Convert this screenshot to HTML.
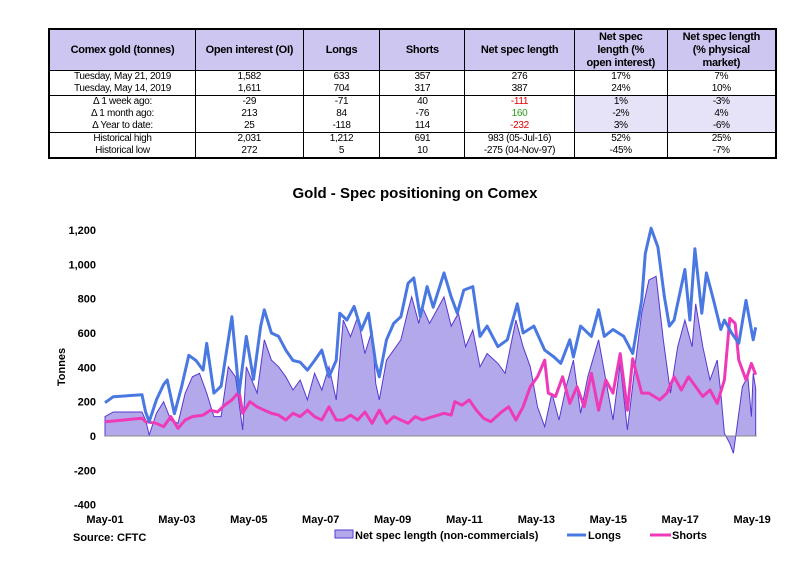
<!DOCTYPE html>
<html><head><meta charset="utf-8">
<style>
body{margin:0;background:#fff;width:808px;height:571px;overflow:hidden;position:relative;font-family:"Liberation Sans",sans-serif;}
table{position:absolute;left:48px;top:28px;width:729px;border-collapse:collapse;font-size:10px;letter-spacing:-0.3px;color:#000;}
td,th{border-left:1px solid #000;border-right:1px solid #000;text-align:center;padding:0;height:12px;line-height:12px;}
th{background:#cdc6f0;font-weight:bold;font-size:11px;height:40px;line-height:13px;border:1px solid #000;padding:0 4px;}
th.w{padding:0 10px;}
tr.gtop td{border-top:1px solid #000;}
table{border:2px solid #000;}
.lav{background:#e6e2f8;}
.red{color:#e00000}.grn{color:#2e9a1e}
</style></head><body>
<table>
<colgroup><col style="width:147px"><col style="width:108px"><col style="width:77px"><col style="width:85px"><col style="width:110px"><col style="width:93px"><col style="width:109px"></colgroup>
<tr><th>Comex gold (tonnes)</th><th>Open interest (OI)</th><th>Longs</th><th>Shorts</th><th>Net spec length</th><th class="w">Net spec length (% open interest)</th><th class="w">Net spec length (% physical market)</th></tr>
<tr class="gtop"><td>Tuesday, May 21, 2019</td><td>1,582</td><td>633</td><td>357</td><td>276</td><td>17%</td><td>7%</td></tr>
<tr><td>Tuesday, May 14, 2019</td><td>1,611</td><td>704</td><td>317</td><td>387</td><td>24%</td><td>10%</td></tr>
<tr class="gtop"><td>&#916; 1 week ago:</td><td>-29</td><td>-71</td><td>40</td><td class="red">-111</td><td class="lav">1%</td><td class="lav">-3%</td></tr>
<tr><td>&#916; 1 month ago:</td><td>213</td><td>84</td><td>-76</td><td class="grn">160</td><td class="lav">-2%</td><td class="lav">4%</td></tr>
<tr><td>&#916; Year to date:</td><td>25</td><td>-118</td><td>114</td><td class="red">-232</td><td class="lav">3%</td><td class="lav">-6%</td></tr>
<tr class="gtop"><td>Historical high</td><td>2,031</td><td>1,212</td><td>691</td><td>983 (05-Jul-16)</td><td>52%</td><td>25%</td></tr>
<tr><td>Historical low</td><td>272</td><td>5</td><td>10</td><td>-275 (04-Nov-97)</td><td>-45%</td><td>-7%</td></tr>
</table>
<svg id="chart" width="808" height="571" style="position:absolute;left:0;top:0"></svg>
<script>
const netDates=[2001.37,2001.6,2002.4,2002.5,2002.6,2002.8,2003.0,2003.2,2003.4,2003.6,2003.8,2004.0,2004.2,2004.4,2004.6,2004.8,2005.0,2005.2,2005.3,2005.6,2005.8,2006.0,2006.2,2006.4,2006.6,2006.8,2007.0,2007.2,2007.4,2007.6,2007.8,2008.0,2008.2,2008.4,2008.6,2008.8,2008.9,2009.0,2009.2,2009.4,2009.6,2009.8,2009.9,2010.1,2010.2,2010.4,2010.6,2010.8,2011.0,2011.2,2011.4,2011.6,2011.8,2012.0,2012.3,2012.5,2012.8,2013.0,2013.2,2013.4,2013.6,2013.8,2014.0,2014.2,2014.4,2014.6,2014.8,2015.1,2015.3,2015.5,2015.7,2015.9,2016.1,2016.3,2016.5,2016.7,2016.9,2017.1,2017.3,2017.5,2017.7,2017.8,2018.0,2018.2,2018.4,2018.5,2018.6,2018.75,2018.85,2018.95,2019.1,2019.25,2019.35,2019.4,2019.47];
const netValues=[113,140,140,93,6,132,200,93,74,250,345,365,250,113,113,403,345,35,403,250,560,442,403,345,268,326,210,365,268,403,210,675,578,695,480,617,307,210,442,500,560,733,810,656,750,656,733,810,640,715,520,617,403,480,423,365,675,520,403,170,54,250,93,287,442,132,345,560,326,93,423,35,384,715,908,930,560,250,520,675,520,770,520,326,442,250,16,-43,-101,54,287,345,113,365,276];
const longDates=[2001.37,2001.6,2002.4,2002.5,2002.6,2002.8,2003.0,2003.1,2003.3,2003.5,2003.7,2003.9,2004.1,2004.2,2004.4,2004.6,2004.8,2004.9,2005.1,2005.3,2005.5,2005.7,2005.8,2006.0,2006.2,2006.4,2006.6,2006.8,2007.0,2007.2,2007.4,2007.6,2007.8,2007.9,2008.1,2008.3,2008.5,2008.7,2008.9,2009.0,2009.2,2009.4,2009.6,2009.8,2009.96,2010.14,2010.33,2010.5,2010.8,2011.0,2011.17,2011.35,2011.6,2011.8,2012.0,2012.3,2012.56,2012.84,2013.0,2013.3,2013.6,2013.86,2014.05,2014.3,2014.4,2014.6,2014.9,2015.1,2015.26,2015.5,2015.8,2016.05,2016.3,2016.4,2016.56,2016.75,2016.93,2017.07,2017.2,2017.5,2017.64,2017.78,2017.97,2018.1,2018.3,2018.5,2018.6,2018.8,2019.0,2019.2,2019.4,2019.47];
const longValues=[194,229,240,140,83,210,300,326,130,287,470,440,384,540,250,290,560,695,250,580,330,640,735,600,580,500,440,430,384,440,500,345,440,715,675,755,617,715,423,345,560,656,695,890,920,695,870,750,950,810,715,850,870,580,640,520,560,770,600,640,500,460,423,560,460,640,580,735,580,620,580,480,790,1063,1210,1100,810,640,675,970,675,1090,715,950,790,620,675,600,540,790,560,633];
const shortDates=[2001.37,2002.4,2002.5,2002.8,2003.0,2003.2,2003.4,2003.6,2003.8,2004.1,2004.3,2004.5,2004.7,2004.9,2005.1,2005.2,2005.4,2005.6,2005.8,2006.0,2006.2,2006.4,2006.6,2006.8,2007.0,2007.2,2007.4,2007.6,2007.8,2008.0,2008.2,2008.4,2008.6,2008.8,2009.0,2009.2,2009.4,2009.6,2009.8,2010.0,2010.2,2010.5,2010.8,2011.0,2011.1,2011.3,2011.5,2011.7,2011.9,2012.1,2012.4,2012.6,2012.8,2013.0,2013.2,2013.4,2013.6,2013.7,2013.9,2014.1,2014.3,2014.5,2014.7,2014.9,2015.1,2015.3,2015.5,2015.7,2015.9,2016.05,2016.3,2016.5,2016.8,2017.0,2017.2,2017.4,2017.6,2017.8,2018.0,2018.2,2018.4,2018.6,2018.75,2018.9,2019.0,2019.2,2019.35,2019.47];
const shortValues=[83,103,83,74,54,113,45,93,113,122,150,140,180,210,258,132,200,170,150,132,122,93,132,113,150,113,93,170,93,93,122,93,140,74,150,74,113,93,74,113,93,113,132,122,200,180,210,150,103,83,140,170,93,170,287,345,442,250,230,345,190,287,170,365,150,326,250,480,150,450,250,250,210,250,345,268,345,287,230,268,190,326,685,655,442,326,423,357];
const yTicks=[-400,-200,0,200,400,600,800,1000,1200];
const yTickLabels=["-400","-200","0","200","400","600","800","1,000","1,200"];
const xTicks=[2001.37,2003.37,2005.37,2007.37,2009.37,2011.37,2013.37,2015.37,2017.37,2019.37];
const xTickLabels=["May-01","May-03","May-05","May-07","May-09","May-11","May-13","May-15","May-17","May-19"];

const NS="http://www.w3.org/2000/svg";
const svg=document.getElementById('chart');
const X=t=>105+35.95*(t-2001.37);
const Y=v=>436-v*0.1717;
function mk(tag,attrs,parent){const e=document.createElementNS(NS,tag);for(const k in attrs)e.setAttribute(k,attrs[k]);(parent||svg).appendChild(e);return e;}
function txt(s,attrs){const e=mk('text',attrs);e.textContent=s;return e;}

const title=txt("Gold - Spec positioning on Comex",{x:415,y:198,'text-anchor':'middle','font-size':15,'font-weight':'bold','font-family':'Liberation Sans, sans-serif'});



yTicks.forEach((v,i)=>{const t=txt(yTickLabels[i],{x:96,y:Y(v)+4,'text-anchor':'end','font-size':11,'font-weight':'bold','font-family':'Liberation Sans, sans-serif'});

});
xTicks.forEach((v,i)=>{const t=txt(xTickLabels[i],{x:X(v),y:523,'text-anchor':'middle','font-size':11,'font-weight':'bold','font-family':'Liberation Sans, sans-serif'});

});
const yt=txt("Tonnes",{x:0,y:0,transform:'translate(65,367) rotate(-90)','text-anchor':'middle','font-size':11,'font-weight':'bold','font-family':'Liberation Sans, sans-serif'});



let d='M'+X(netDates[0])+','+Y(0);
netDates.forEach((t,i)=>{d+=' L'+X(t).toFixed(1)+','+Y(netValues[i]).toFixed(1);});
d+=' L'+X(netDates[netDates.length-1])+','+Y(0)+' Z';
const area=mk('path',{d:d,fill:'#b3a8ea',stroke:'#5838d0','stroke-width':1});



const zl=mk('line',{x1:X(2001.37),x2:X(2019.5),y1:Y(0),y2:Y(0),stroke:'#888','stroke-width':1});



function line(dates,vals,color,name){const p=dates.map((t,i)=>X(t).toFixed(1)+','+Y(vals[i]).toFixed(1)).join(' ');
const e=mk('polyline',{points:p,fill:'none',stroke:color,'stroke-width':3,'stroke-linejoin':'round'});

}
line(shortDates,shortValues,'#ee3ab8','shorts-line');
line(longDates,longValues,'#4a78e2','longs-line');

const src=txt("Source: CFTC",{x:73,y:541,'font-size':11,'font-weight':'bold','font-family':'Liberation Sans, sans-serif'});



const lb=mk('rect',{x:335,y:530,width:18,height:8,fill:'#b3a8ea',stroke:'#5838d0','stroke-width':1});


const l1=txt("Net spec length (non-commercials)",{x:355,y:539,'font-size':11,'font-weight':'bold','font-family':'Liberation Sans, sans-serif'});


const ll=mk('line',{x1:567,x2:586,y1:535,y2:535,stroke:'#4a78e2','stroke-width':3});


const l2=txt("Longs",{x:588,y:539,'font-size':11,'font-weight':'bold','font-family':'Liberation Sans, sans-serif'});


const ls=mk('line',{x1:650,x2:671,y1:535,y2:535,stroke:'#ee3ab8','stroke-width':3});


const l3=txt("Shorts",{x:672,y:539,'font-size':11,'font-weight':'bold','font-family':'Liberation Sans, sans-serif'});


</script>
</body></html>
